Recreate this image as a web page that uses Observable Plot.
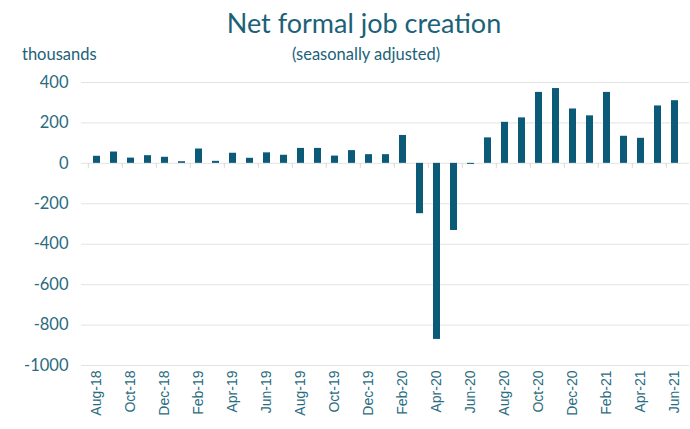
<!DOCTYPE html>
<html><head><meta charset="utf-8">
<script src="https://cdn.jsdelivr.net/npm/d3@7"></script>
<script src="https://cdn.jsdelivr.net/npm/@observablehq/plot@0.6"></script>
<style>
body{margin:0;background:#fff;}
#wrap{position:relative;width:690px;height:429px;font-family:Lato,"Open Sans",sans-serif;}
.t{position:absolute;color:#1b6279;white-space:nowrap;}
#title{left:0;width:728px;text-align:center;top:6px;font-size:27px;}
#sub{left:0;width:732px;text-align:center;top:44px;font-size:16.5px;}
#unit{left:22px;top:44px;font-size:16.5px;}
#chart{position:absolute;left:0;top:0;}
</style></head>
<body><div id="wrap">
<div class="t" id="title">Net formal job creation</div>
<div class="t" id="sub">(seasonally adjusted)</div>
<div class="t" id="unit">thousands</div>
<div id="chart"></div>
</div>
<script>
const months = ["Aug-18","Sep-18","Oct-18","Nov-18","Dec-18","Jan-19","Feb-19","Mar-19","Apr-19","May-19","Jun-19","Jul-19","Aug-19","Sep-19","Oct-19","Nov-19","Dec-19","Jan-20","Feb-20","Mar-20","Apr-20","May-20","Jun-20","Jul-20","Aug-20","Sep-20","Oct-20","Nov-20","Dec-20","Jan-21","Feb-21","Mar-21","Apr-21","May-21","Jun-21"];
const values = [35,56,26,38,30,8,71,10,50,25,52,40,74,74,36,63,43,43,138,-249,-871,-332,-5,126,203,225,351,370,269,235,351,134,124,284,310];
const yTicks = [-1000,-800,-600,-400,-200,0,200,400];
const xTickLabels = months.filter((m,i)=>i%2===0);

const data = months.map((m,i)=>({month:m, value:values[i]}));
const W = 690, ML = 81, MR = 1;
const step = (W-ML-MR)/months.length;

const chart = Plot.plot({
  width: W, height: 429,
  marginLeft: ML, marginRight: MR, marginTop: 82, marginBottom: 64,
  style:{fontFamily:"Lato, 'Open Sans', sans-serif", color:"#2a6b80", background:"transparent"},
  x:{type:"band", domain: months, paddingInner:0.6, paddingOuter:0.3, label:null},
  y:{domain:[-1000,400], label:null},
  marks:[
    Plot.ruleY(yTicks, {stroke:"#e3e3e3", strokeWidth:1}),
    Plot.ruleX(xTickLabels, {x:d=>d, y1:0, y2:-25, stroke:"#d9d9d9", dx:-step/2}),
    Plot.barY(data, {x:"month", y:"value", fill:"#0b5a77"}),
    Plot.axisY({ticks:yTicks, tickSize:0, tickPadding:13, fontSize:16.5, fill:"#2a6b80", tickFormat:d=>String(d)}),
    Plot.axisX({ticks:xTickLabels, tickSize:0, tickRotate:-90, tickPadding:5, fontSize:14,
      fontFamily:"'Liberation Sans', Arial, sans-serif", fill:"#2a6b80"})
  ]
});
document.getElementById("chart").appendChild(chart);
</script>
</body></html>
